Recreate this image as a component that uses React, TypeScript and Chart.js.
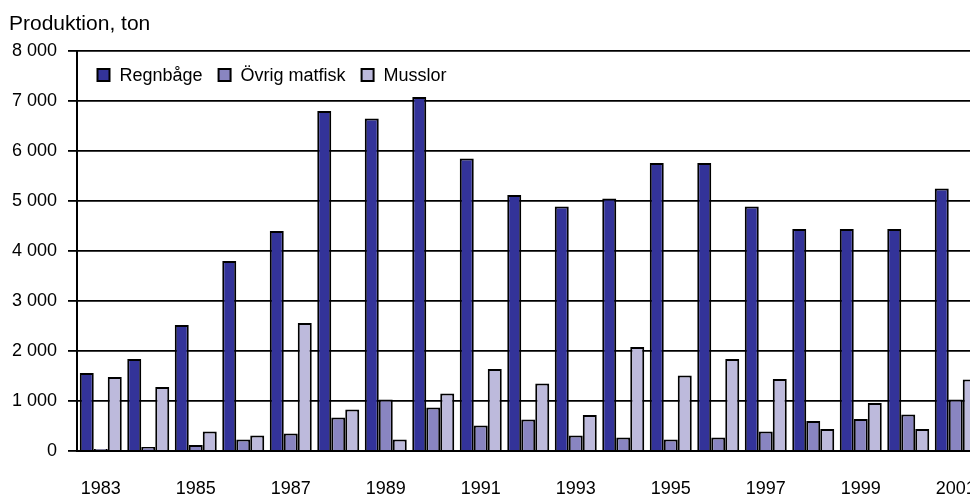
import React, { useEffect, useRef } from "react";
import { Chart, registerables } from "chart.js";

Chart.register(...registerables);

const years = ["1983","1984","1985","1986","1987","1988","1989","1990","1991","1992","1993","1994","1995","1996","1997","1998","1999","2000","2001"];
const regnbage = [1560, 1840, 2520, 3800, 4400, 6800, 6650, 7080, 5850, 5120, 4890, 5050, 5760, 5760, 4890, 4440, 4440, 4440, 5250];
const ovrigMatfisk = [40, 80, 120, 230, 350, 670, 1030, 870, 510, 630, 310, 270, 230, 270, 390, 600, 640, 730, 1030];
const musslor = [1480, 1280, 390, 310, 2560, 830, 230, 1150, 1640, 1350, 720, 2080, 1510, 1840, 1440, 440, 960, 440, 1430];
const seriesNames = ["Regnbåge", "Övrig matfisk", "Musslor"];
const seriesColors = ["#333399", "#8985c1", "#bdbadc"];
const yTicks = [0, 1000, 2000, 3000, 4000, 5000, 6000, 7000, 8000];
const titleText = "Produktion, ton";

const FONT = "'Liberation Sans', Arial, Helvetica, sans-serif";

const fmt = (v: number) => String(v).replace(/\B(?=(\d{3})+(?!\d))/g, " ");

const insideLegend = {
  id: "insideLegend",
  afterDatasetsDraw(chart: any) {
    const { ctx, chartArea } = chart;
    ctx.save();
    ctx.font = `18px ${FONT}`;
    ctx.textBaseline = "middle";
    ctx.textAlign = "left";
    let x = chartArea.left + 20.5;
    const cy = chartArea.top + 24;
    const box = 12;
    chart.data.datasets.forEach((ds: any) => {
      ctx.fillStyle = ds.backgroundColor;
      ctx.fillRect(x, cy - box / 2, box, box);
      ctx.lineWidth = 2;
      ctx.strokeStyle = "#000";
      ctx.strokeRect(x, cy - box / 2, box, box);
      const tx = x + box + 10;
      ctx.fillStyle = "#000";
      ctx.fillText(ds.label, tx, cy + 1);
      x = tx + ctx.measureText(ds.label).width + 16;
    });
    ctx.restore();
  },
};

export default function App() {
  const ref = useRef<HTMLCanvasElement>(null);

  useEffect(() => {
    if (!ref.current) return;
    const data = [regnbage, ovrigMatfisk, musslor];
    const chart = new Chart(ref.current, {
      type: "bar",
      data: {
        labels: years,
        datasets: seriesNames.map((name, i) => ({
          label: name,
          data: data[i],
          backgroundColor: seriesColors[i],
          borderColor: "#000",
          borderWidth: 2,
          categoryPercentage: 0.884,
          barPercentage: 1,
        })),
      },
      options: {
        animation: false,
        responsive: false,
        devicePixelRatio: 1,
        layout: { padding: { left: 9, right: 20.5, top: 0, bottom: 0 } },
        plugins: {
          legend: { display: false },
          tooltip: { enabled: false },
          title: {
            display: true,
            text: titleText,
            align: "start",
            color: "#000",
            font: { family: FONT, size: 21, weight: "normal", lineHeight: 1.2 },
            padding: { top: 11.5, bottom: 14.3 },
          },
        },
        scales: {
          x: {
            offset: true,
            grid: {
              display: true,
              drawOnChartArea: false,
              drawTicks: true,
              tickLength: 27,
              tickColor: "rgba(0,0,0,0)",
            },
            border: { display: true, color: "#000", width: 2 },
            ticks: {
              autoSkip: false,
              maxRotation: 0,
              minRotation: 0,
              padding: 0,
              color: "#000",
              font: { family: FONT, size: 18 },
              callback: (_v: any, i: number) => (i % 2 === 0 ? years[i] : ""),
            },
            afterFit: (scale: any) => {
              scale.height = 45;
            },
          },
          y: {
            min: 0,
            max: 8000,
            afterBuildTicks: (scale: any) => {
              scale.ticks = yTicks.map((v) => ({ value: v }));
            },
            grid: {
              color: "#000",
              lineWidth: 1.8,
              drawTicks: true,
              tickLength: 9,
              tickColor: "#000",
            },
            border: { display: true, color: "#000", width: 2 },
            ticks: {
              padding: 11,
              color: "#000",
              font: { family: FONT, size: 18 },
              callback: (v: any) => fmt(Number(v)),
            },
            afterFit: (scale: any) => {
              scale.width = 68;
            },
          },
        },
      },
      plugins: [insideLegend],
    });
    return () => chart.destroy();
  }, []);

  return (
    <div
      style={{
        position: "fixed",
        left: 0,
        top: 0,
        width: 970,
        height: 496,
        overflow: "hidden",
        background: "#fff",
      }}
    >
      <canvas ref={ref} width={1000} height={496} style={{ display: "block", width: 1000, height: 496 }} />
    </div>
  );
}
